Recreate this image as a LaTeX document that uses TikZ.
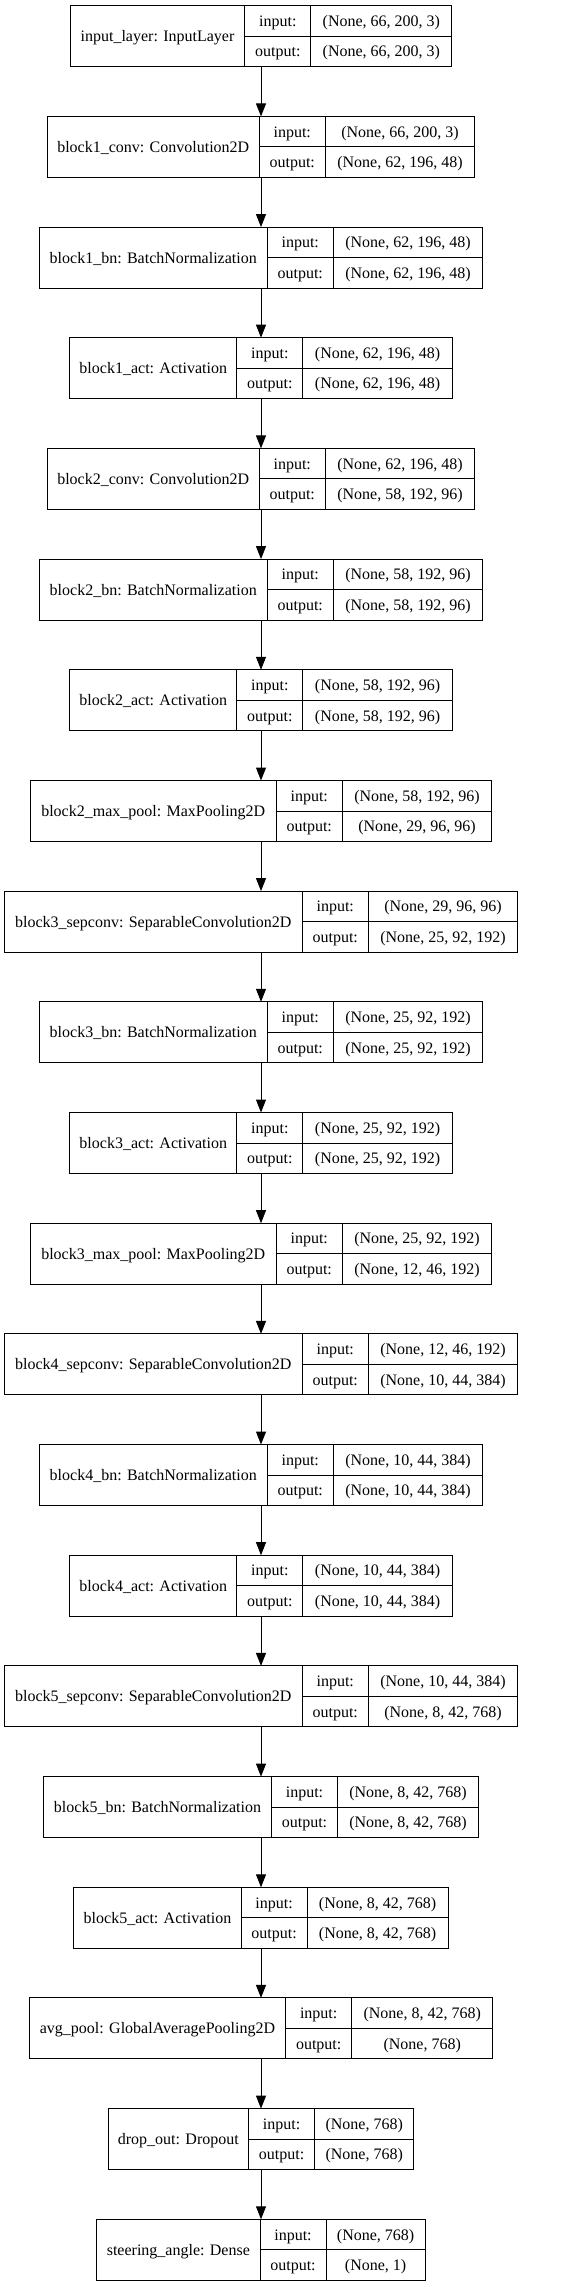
\documentclass[tikz,border=0pt]{standalone}
\usepackage{fontspec}
\setmainfont{Liberation Serif}
\usetikzlibrary{arrows.meta,positioning}

\begin{document}
\begin{tikzpicture}[x=1pt,y=-1pt]
    \tikzstyle{every node}=[font=\fontsize{16}{19}\selectfont]
    \tikzstyle{cell}=[draw, line width=1pt, inner sep=0pt, outer sep=0pt,
                      text height=12pt, text depth=1pt]
    \tikzstyle{lab}=[cell, minimum height=61pt, anchor=north west]
    \tikzstyle{key}=[cell, minimum width=66pt, minimum height=30.5pt, anchor=north west]
    \tikzstyle{val}=[cell, minimum height=30.5pt, anchor=north west]
    \tikzstyle{arr}=[-{Triangle[length=13pt,width=10pt]}, line width=1pt]

      \useasboundingbox (0,0) rectangle (583,2287);
      \coordinate (ax) at (261,0);  % all boxes are centred here

      % input
      \node[lab, minimum width=174.7pt] (L1) at (70.15,5.7) {input\_layer: InputLayer};
      \node[key] (I1) at (L1.north east) {input:};
      \node[key] (O1) at (I1.south west) {output:};
      \node[val, minimum width=141pt] (IV1) at (I1.north east) {(None, 66, 200, 3)};
      \node[val, minimum width=141pt] (OV1) at (IV1.south west) {(None, 66, 200, 3)};

      % block 1
      \node[lab, minimum width=212pt] (L2) at (47.25,116.4) {block1\_conv: Convolution2D};
      \node[key] (I2) at (L2.north east) {input:};
      \node[key] (O2) at (I2.south west) {output:};
      \node[val, minimum width=149.5pt] (IV2) at (I2.north east) {(None, 66, 200, 3)};
      \node[val, minimum width=149.5pt] (OV2) at (IV2.south west) {(None, 62, 196, 48)};

      \node[lab, minimum width=228pt] (L3) at (39.25,227.1) {block1\_bn: BatchNormalization};
      \node[key] (I3) at (L3.north east) {input:};
      \node[key] (O3) at (I3.south west) {output:};
      \node[val, minimum width=149.5pt] (IV3) at (I3.north east) {(None, 62, 196, 48)};
      \node[val, minimum width=149.5pt] (OV3) at (IV3.south west) {(None, 62, 196, 48)};

      \node[lab, minimum width=167.3pt] (L4) at (69.6,337.7) {block1\_act: Activation};
      \node[key] (I4) at (L4.north east) {input:};
      \node[key] (O4) at (I4.south west) {output:};
      \node[val, minimum width=149.5pt] (IV4) at (I4.north east) {(None, 62, 196, 48)};
      \node[val, minimum width=149.5pt] (OV4) at (IV4.south west) {(None, 62, 196, 48)};

      % block 2
      \node[lab, minimum width=212pt] (L5) at (47.25,448.4) {block2\_conv: Convolution2D};
      \node[key] (I5) at (L5.north east) {input:};
      \node[key] (O5) at (I5.south west) {output:};
      \node[val, minimum width=149.5pt] (IV5) at (I5.north east) {(None, 62, 196, 48)};
      \node[val, minimum width=149.5pt] (OV5) at (IV5.south west) {(None, 58, 192, 96)};

      \node[lab, minimum width=228pt] (L6) at (39.25,559.1) {block2\_bn: BatchNormalization};
      \node[key] (I6) at (L6.north east) {input:};
      \node[key] (O6) at (I6.south west) {output:};
      \node[val, minimum width=149.5pt] (IV6) at (I6.north east) {(None, 58, 192, 96)};
      \node[val, minimum width=149.5pt] (OV6) at (IV6.south west) {(None, 58, 192, 96)};

      \node[lab, minimum width=167.3pt] (L7) at (69.6,669.8) {block2\_act: Activation};
      \node[key] (I7) at (L7.north east) {input:};
      \node[key] (O7) at (I7.south west) {output:};
      \node[val, minimum width=149.5pt] (IV7) at (I7.north east) {(None, 58, 192, 96)};
      \node[val, minimum width=149.5pt] (OV7) at (IV7.south west) {(None, 58, 192, 96)};

      \node[lab, minimum width=246pt] (L8) at (30.25,780.5) {block2\_max\_pool: MaxPooling2D};
      \node[key] (I8) at (L8.north east) {input:};
      \node[key] (O8) at (I8.south west) {output:};
      \node[val, minimum width=149.5pt] (IV8) at (I8.north east) {(None, 58, 192, 96)};
      \node[val, minimum width=149.5pt] (OV8) at (IV8.south west) {(None, 29, 96, 96)};

      % block 3
      \node[lab, minimum width=298pt] (L9) at (4.25,891.1) {block3\_sepconv: SeparableConvolution2D};
      \node[key] (I9) at (L9.north east) {input:};
      \node[key] (O9) at (I9.south west) {output:};
      \node[val, minimum width=149.5pt] (IV9) at (I9.north east) {(None, 29, 96, 96)};
      \node[val, minimum width=149.5pt] (OV9) at (IV9.south west) {(None, 25, 92, 192)};

      \node[lab, minimum width=228pt] (L10) at (39.25,1001.8) {block3\_bn: BatchNormalization};
      \node[key] (I10) at (L10.north east) {input:};
      \node[key] (O10) at (I10.south west) {output:};
      \node[val, minimum width=149.5pt] (IV10) at (I10.north east) {(None, 25, 92, 192)};
      \node[val, minimum width=149.5pt] (OV10) at (IV10.south west) {(None, 25, 92, 192)};

      \node[lab, minimum width=167.3pt] (L11) at (69.6,1112.5) {block3\_act: Activation};
      \node[key] (I11) at (L11.north east) {input:};
      \node[key] (O11) at (I11.south west) {output:};
      \node[val, minimum width=149.5pt] (IV11) at (I11.north east) {(None, 25, 92, 192)};
      \node[val, minimum width=149.5pt] (OV11) at (IV11.south west) {(None, 25, 92, 192)};

      \node[lab, minimum width=246pt] (L12) at (30.25,1223.2) {block3\_max\_pool: MaxPooling2D};
      \node[key] (I12) at (L12.north east) {input:};
      \node[key] (O12) at (I12.south west) {output:};
      \node[val, minimum width=149.5pt] (IV12) at (I12.north east) {(None, 25, 92, 192)};
      \node[val, minimum width=149.5pt] (OV12) at (IV12.south west) {(None, 12, 46, 192)};

      % block 4
      \node[lab, minimum width=298pt] (L13) at (4.25,1333.9) {block4\_sepconv: SeparableConvolution2D};
      \node[key] (I13) at (L13.north east) {input:};
      \node[key] (O13) at (I13.south west) {output:};
      \node[val, minimum width=149.5pt] (IV13) at (I13.north east) {(None, 12, 46, 192)};
      \node[val, minimum width=149.5pt] (OV13) at (IV13.south west) {(None, 10, 44, 384)};

      \node[lab, minimum width=228pt] (L14) at (39.25,1444.5) {block4\_bn: BatchNormalization};
      \node[key] (I14) at (L14.north east) {input:};
      \node[key] (O14) at (I14.south west) {output:};
      \node[val, minimum width=149.5pt] (IV14) at (I14.north east) {(None, 10, 44, 384)};
      \node[val, minimum width=149.5pt] (OV14) at (IV14.south west) {(None, 10, 44, 384)};

      \node[lab, minimum width=167.3pt] (L15) at (69.6,1555.2) {block4\_act: Activation};
      \node[key] (I15) at (L15.north east) {input:};
      \node[key] (O15) at (I15.south west) {output:};
      \node[val, minimum width=149.5pt] (IV15) at (I15.north east) {(None, 10, 44, 384)};
      \node[val, minimum width=149.5pt] (OV15) at (IV15.south west) {(None, 10, 44, 384)};

      % block 5
      \node[lab, minimum width=298pt] (L16) at (4.25,1665.9) {block5\_sepconv: SeparableConvolution2D};
      \node[key] (I16) at (L16.north east) {input:};
      \node[key] (O16) at (I16.south west) {output:};
      \node[val, minimum width=149.5pt] (IV16) at (I16.north east) {(None, 10, 44, 384)};
      \node[val, minimum width=149.5pt] (OV16) at (IV16.south west) {(None, 8, 42, 768)};

      \node[lab, minimum width=228pt] (L17) at (43.5,1776.6) {block5\_bn: BatchNormalization};
      \node[key] (I17) at (L17.north east) {input:};
      \node[key] (O17) at (I17.south west) {output:};
      \node[val, minimum width=141pt] (IV17) at (I17.north east) {(None, 8, 42, 768)};
      \node[val, minimum width=141pt] (OV17) at (IV17.south west) {(None, 8, 42, 768)};

      \node[lab, minimum width=167.3pt] (L18) at (73.85,1887.3) {block5\_act: Activation};
      \node[key] (I18) at (L18.north east) {input:};
      \node[key] (O18) at (I18.south west) {output:};
      \node[val, minimum width=141pt] (IV18) at (I18.north east) {(None, 8, 42, 768)};
      \node[val, minimum width=141pt] (OV18) at (IV18.south west) {(None, 8, 42, 768)};

      % head
      \node[lab, minimum width=256.4pt] (L19) at (29.3,1997.9) {avg\_pool: GlobalAveragePooling2D};
      \node[key] (I19) at (L19.north east) {input:};
      \node[key] (O19) at (I19.south west) {output:};
      \node[val, minimum width=141pt] (IV19) at (I19.north east) {(None, 8, 42, 768)};
      \node[val, minimum width=141pt] (OV19) at (IV19.south west) {(None, 768)};

      \node[lab, minimum width=140.4pt] (L20) at (108.15,2108.6) {drop\_out: Dropout};
      \node[key] (I20) at (L20.north east) {input:};
      \node[key] (O20) at (I20.south west) {output:};
      \node[val, minimum width=99.3pt] (IV20) at (I20.north east) {(None, 768)};
      \node[val, minimum width=99.3pt] (OV20) at (IV20.south west) {(None, 768)};

      \node[lab, minimum width=163.3pt] (L21) at (96.7,2219.3) {steering\_angle: Dense};
      \node[key] (I21) at (L21.north east) {input:};
      \node[key] (O21) at (I21.south west) {output:};
      \node[val, minimum width=99.3pt] (IV21) at (I21.north east) {(None, 768)};
      \node[val, minimum width=99.3pt] (OV21) at (IV21.south west) {(None, 1)};

      % draw arrows
      \foreach \i [count=\j from 2] in {1,...,20}
        \draw[arr] (L\i.south -| ax) -- (L\j.north -| ax);

\end{tikzpicture}
\end{document}
